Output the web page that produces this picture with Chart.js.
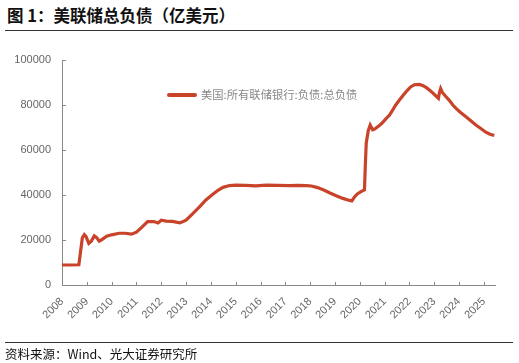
<!DOCTYPE html>
<html>
<head>
<meta charset="utf-8">
<script src="https://cdn.jsdelivr.net/npm/chart.js@4/dist/chart.umd.min.js"></script>
<style>
  html, body { margin: 0; padding: 0; background: #fff; }
  #wrap { position: relative; width: 519px; height: 363px; overflow: hidden; font-family: "Noto Sans CJK SC", sans-serif; }
  #title { position: absolute; left: 7px; top: 3px; font-size: 16.5px; font-weight: bold; color: #111; white-space: nowrap; }
  #topline { position: absolute; left: 5px; width: 508px; top: 30px; height: 1px; background: #333; }
  #botline { position: absolute; left: 5px; width: 508px; top: 342px; height: 1px; background: #333; }
  #source { position: absolute; left: 5px; top: 344px; font-size: 12.5px; color: #111; white-space: nowrap; }
  #legend { position: absolute; left: 167px; top: 86px; white-space: nowrap; font-size: 11.3px; color: #888; }
  #legend .sw { display: inline-block; width: 30px; height: 4px; background: #C8432A; border-radius: 2px; vertical-align: middle; margin-right: 4px; position: relative; top: -1px; }
  canvas { position: absolute; left: 0; top: 0; }
</style>
</head>
<body>
<div id="wrap">
  <div id="title">图 1：美联储总负债（亿美元）</div>
  <div id="topline"></div>
  <canvas id="c" width="519" height="363"></canvas>
  <div id="legend"><span class="sw"></span>美国:所有联储银行:负债:总负债</div>
  <div id="botline"></div>
  <div id="source">资料来源：Wind、光大证券研究所</div>
</div>
<script>
// Time (decimal year) and total liabilities (亿美元)
const dates = [
  2008.00, 2008.30, 2008.68, 2008.75, 2008.82, 2008.90, 2008.97, 2009.08, 2009.18, 2009.30,
  2009.40, 2009.50, 2009.62, 2009.80, 2010.00, 2010.30, 2010.55, 2010.80, 2011.00, 2011.20,
  2011.45, 2011.70, 2011.87, 2012.00, 2012.20, 2012.45, 2012.75, 2013.00, 2013.25, 2013.55,
  2013.80, 2014.09, 2014.30, 2014.49, 2014.75, 2015.00, 2015.40, 2015.80, 2016.23, 2016.70,
  2017.17, 2017.50, 2017.84, 2018.05, 2018.30, 2018.55, 2018.80, 2019.05, 2019.32, 2019.55,
  2019.68, 2019.78, 2019.90, 2020.05, 2020.19, 2020.22, 2020.26, 2020.34, 2020.42, 2020.52,
  2020.60, 2020.75, 2020.90, 2021.05, 2021.20, 2021.33, 2021.45, 2021.60, 2021.75, 2021.90,
  2022.05, 2022.20, 2022.40, 2022.55, 2022.70, 2022.90, 2023.07, 2023.17, 2023.21, 2023.26,
  2023.33, 2023.45, 2023.60, 2023.75, 2023.88, 2024.05, 2024.28, 2024.45, 2024.68, 2024.85,
  2025.08, 2025.25, 2025.42
];
const liabilities = [
  8900, 8900, 9000, 15000, 21000, 22400, 21500, 18500, 19500, 21800,
  21000, 19500, 20300, 21700, 22300, 23000, 23000, 22600, 23500, 25500,
  28200, 28200, 27600, 28800, 28400, 28300, 27600, 28800, 31500, 34800,
  37800, 40400, 42200, 43400, 44200, 44400, 44300, 44100, 44400, 44300,
  44200, 44300, 44200, 44000, 43300, 42200, 40900, 39700, 38500, 37700,
  37400, 39000, 40500, 41500, 42300, 52000, 63000, 68500, 71100, 69000,
  69300, 70500, 72000, 73800, 75500, 77800, 80000, 82200, 84300, 86300,
  88000, 89000, 89200, 88600, 87600, 85800, 84000, 83000, 85500, 87300,
  85600, 84000, 82200, 80000, 78500, 76800, 74800, 73200, 71100, 69800,
  67900, 67000, 66400
];
const yearTicks = [2008, 2009, 2010, 2011, 2012, 2013, 2014, 2015, 2016, 2017, 2018, 2019, 2020, 2021, 2022, 2023, 2024, 2025];
const valueTicks = [0, 20000, 40000, 60000, 80000, 100000];
const seriesName = '美国:所有联储银行:负债:总负债';

const points = dates.map((d, i) => ({ x: d, y: liabilities[i] }));

const innerTicks = {
  id: 'innerTicks',
  afterDraw(chart) {
    const ctx = chart.ctx;
    const xs = chart.scales.x, ys = chart.scales.y;
    ctx.save();
    ctx.strokeStyle = '#888';
    ctx.lineWidth = 1;
    ctx.beginPath();
    yearTicks.forEach(v => {
      const px = Math.round(xs.getPixelForValue(v)) + 0.5;
      ctx.moveTo(px, ys.bottom);
      ctx.lineTo(px, ys.bottom - 3);
    });
    valueTicks.forEach(v => {
      const py = Math.round(ys.getPixelForValue(v)) + 0.5;
      ctx.moveTo(xs.left, py);
      ctx.lineTo(xs.left + 4, py);
    });
    ctx.stroke();
    ctx.restore();
  }
};

new Chart(document.getElementById('c'), {
  type: 'line',
  data: {
    datasets: [{
      label: seriesName,
      data: points,
      borderColor: '#C8432A',
      backgroundColor: '#C8432A',
      borderWidth: 3.2,
      pointRadius: 0,
      tension: 0,
      fill: false
    }]
  },
  options: {
    responsive: false,
    animation: false,
    layout: { padding: { top: 60, right: 24, left: 0, bottom: 0 } },
    plugins: { legend: { display: false }, tooltip: { enabled: false } },
    scales: {
      x: {
        type: 'linear',
        min: 2008,
        max: 2025.45,
        afterFit: s => { s.height = 78; },
        afterBuildTicks: s => { s.ticks = yearTicks.map(v => ({ value: v })); },
        ticks: {
          callback: v => String(v),
          minRotation: 45, maxRotation: 45,
          autoSkip: false,
          color: '#666',
          padding: 2,
          font: { family: 'Liberation Sans', size: 11 }
        },
        grid: { display: true, drawOnChartArea: false, drawTicks: true, tickLength: 8, color: 'rgba(0,0,0,0)' },
        border: { display: true, color: '#888', width: 1 }
      },
      y: {
        min: 0,
        max: 100000,
        afterFit: s => { s.width = 62; },
        afterBuildTicks: s => { s.ticks = valueTicks.map(v => ({ value: v })); },
        ticks: {
          callback: v => String(v),
          color: '#666',
          padding: 3,
          font: { family: 'Liberation Sans', size: 11 }
        },
        grid: { display: true, drawOnChartArea: false, drawTicks: true, tickLength: 8, color: 'rgba(0,0,0,0)' },
        border: { display: true, color: '#888', width: 1 }
      }
    }
  },
  plugins: [innerTicks]
});
</script>
</body>
</html>
